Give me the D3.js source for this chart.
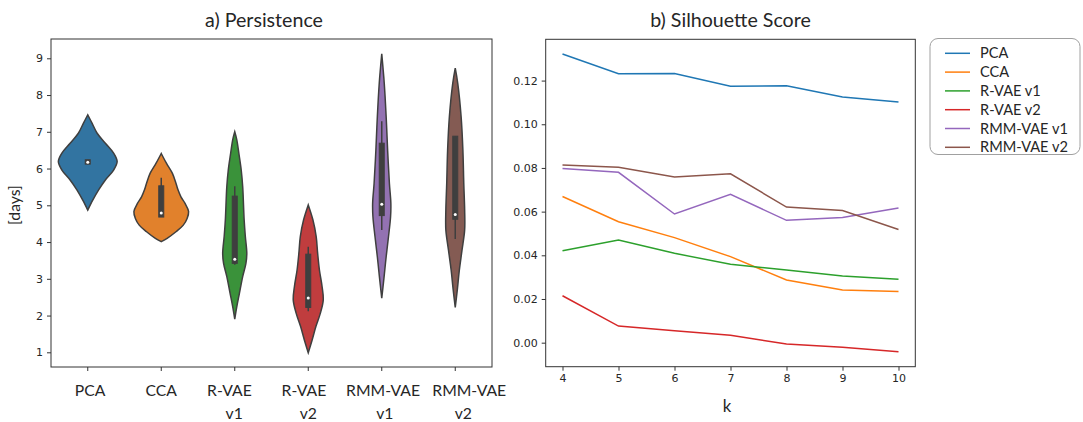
<!DOCTYPE html>
<html><head><meta charset="utf-8">
<script src="https://cdn.jsdelivr.net/npm/d3@7"></script>
<style>body{margin:0;background:#fff}svg{display:block}</style>
</head><body><svg id="c" width="1083" height="422"></svg>
<script>
// ---------- Data: a) Persistence (violins) ----------
const categories = ["PCA", "CCA", "R-VAE v1", "R-VAE v2", "RMM-VAE v1", "RMM-VAE v2"];
const yTicksLeft = [1, 2, 3, 4, 5, 6, 7, 8, 9];
// density profiles: [value (days), relative density]
const pcaProfile = [[7.46,0],[7.23,0.15],[6.96,0.32],[6.69,0.60],[6.42,0.88],[6.19,1.0],[5.96,0.88],[5.69,0.60],[5.42,0.37],[5.14,0.17],[4.87,0]];
const ccaProfile = [[6.41,0],[6.14,0.18],[5.87,0.38],[5.60,0.50],[5.42,0.57],[5.23,0.67],[5.05,0.81],[4.83,0.93],[4.64,0.88],[4.46,0.75],[4.28,0.50],[4.10,0.20],[4.01,0]];
const rvae1Profile = [[7.0,0],[6.78,0.07],[6.41,0.14],[5.96,0.22],[5.51,0.27],[4.60,0.32],[4.15,0.36],[3.69,0.41],[3.42,0.38],[3.06,0.27],[2.61,0.16],[2.24,0.07],[1.90,0]];
const rvae2Profile = [[5.01,0],[4.60,0.16],[4.15,0.27],[3.69,0.32],[3.24,0.38],[2.79,0.47],[2.42,0.51],[2.06,0.41],[1.70,0.26],[1.33,0.13],[0.99,0]];
const rmm1Profile = [[9.12,0],[8.32,0.085],[7.41,0.15],[6.50,0.20],[5.60,0.26],[5.05,0.31],[4.69,0.30],[4.15,0.23],[3.60,0.15],[3.06,0.08],[2.47,0]];
const rmm2Profile = [[8.73,0],[8.32,0.085],[7.41,0.20],[6.50,0.26],[5.60,0.29],[4.87,0.32],[4.33,0.32],[3.78,0.23],[3.24,0.14],[2.70,0.07],[2.22,0]];
const profiles = [pcaProfile, ccaProfile, rvae1Profile, rvae2Profile, rmm1Profile, rmm2Profile];
// inner box statistics
const q1 =      [6.12, 4.68, 3.42, 2.22, 4.72, 4.62];
const q3 =      [6.24, 5.53, 5.25, 3.67, 6.69, 6.88];
const medians = [6.17, 4.79, 3.53, 2.48, 5.03, 4.75];
const whiskLo = [6.12, 4.68, 3.38, 2.12, 4.33, 4.08];
const whiskHi = [6.24, 5.75, 5.52, 3.87, 7.29, 6.88];
const violinColors = ["#3274a1", "#e1812c", "#3a923a", "#c03d3e", "#9372b2", "#845b53"];

// ---------- Data: b) Silhouette Score (lines) ----------
const kValues = [4, 5, 6, 7, 8, 9, 10];
const yTicksRight = [0.00, 0.02, 0.04, 0.06, 0.08, 0.10, 0.12];
const seriesNames = ["PCA", "CCA", "R-VAE v1", "R-VAE v2", "RMM-VAE v1", "RMM-VAE v2"];
const silPCA   = [0.1322, 0.1231, 0.1232, 0.1174, 0.1176, 0.1125, 0.1102];
const silCCA   = [0.0669, 0.0554, 0.0481, 0.0394, 0.0287, 0.0241, 0.0234];
const silRVAE1 = [0.0421, 0.0470, 0.0409, 0.0359, 0.0333, 0.0305, 0.0290];
const silRVAE2 = [0.0215, 0.0076, 0.0055, 0.0034, -0.0006, -0.0021, -0.0041];
const silRMM1  = [0.0798, 0.0780, 0.0589, 0.0679, 0.0560, 0.0573, 0.0617];
const silRMM2  = [0.0814, 0.0803, 0.0759, 0.0773, 0.0621, 0.0605, 0.0518];
const silSeries = [silPCA, silCCA, silRVAE1, silRVAE2, silRMM1, silRMM2];
const lineColors = ["#1f77b4", "#ff7f0e", "#2ca02c", "#d62728", "#9467bd", "#8c564b"];

// ---------- Drawing ----------
const svg = d3.select("#c");
const tickFont = "'DejaVu Sans', sans-serif";
const labelFont = "Lato, 'Open Sans', sans-serif";
const textColor = "#262626";
// layout: hand-placed category label nudges (px) for line 1 and line 2
const labelNudge1 = [2.3, 0, -5.3, -4.3, 1.3, 14];
const labelNudge2 = [0, 0, -0.6, 0, 3, 8];

function fitSize(txt, size, target) {
  const probe = svg.append("text").attr("font-family", labelFont).attr("font-size", size).text(txt);
  const w = probe.node().getComputedTextLength();
  probe.remove();
  return w > 0 ? size * target / w : size;
}

// ===== Left panel =====
const xL = d3.scaleBand().domain(categories).range([51, 492]).padding(0);
const yL = d3.scaleLinear().domain([0.6, 9.525]).range([367, 39]);
const wScale = d3.scaleLinear().domain([0, 1]).range([0, xL.bandwidth() * 0.4]);

const gL = svg.append("g");
categories.forEach((c, i) => {
  const cx = xL(c) + xL.bandwidth() / 2;
  const prof = profiles[i];
  const area = d3.area()
    .y(d => yL(d[0]))
    .x0(d => cx - wScale(d[1]))
    .x1(d => cx + wScale(d[1]))
    .curve(d3.curveCatmullRom.alpha(0.5));
  gL.append("path").datum(prof).attr("d", area)
    .attr("fill", violinColors[i]).attr("stroke", "#3f3f3f").attr("stroke-width", 1.5);
  gL.append("line").attr("x1", cx).attr("x2", cx)
    .attr("y1", yL(whiskLo[i])).attr("y2", yL(whiskHi[i]))
    .attr("stroke", "#3f3f3f").attr("stroke-width", 1.5);
  gL.append("rect").attr("x", cx - 2.5).attr("width", 5)
    .attr("y", yL(q3[i])).attr("height", Math.max(yL(q1[i]) - yL(q3[i]), 0))
    .attr("fill", "#3f3f3f").attr("stroke", "#3f3f3f").attr("stroke-width", 1);
  gL.append("circle").attr("cx", cx).attr("cy", yL(medians[i])).attr("r", 1.5)
    .attr("fill", "#fff");
});

gL.append("rect").attr("x", 51).attr("y", 39).attr("width", 441).attr("height", 328)
  .attr("fill", "none").attr("stroke", "#333").attr("stroke-width", 1);

const axL = d3.axisLeft(yL).tickValues(yTicksLeft).tickSize(4).tickPadding(4).tickFormat(d3.format("d"));
const gAxL = svg.append("g").attr("transform", "translate(51,0)").call(axL);
gAxL.select(".domain").remove();
gAxL.attr("font-size", 11).attr("font-family", tickFont);
gAxL.selectAll("line").attr("stroke", "#333");
gAxL.selectAll("text").attr("font-family", tickFont).attr("font-size", 11).attr("fill", textColor);

const axLX = d3.axisBottom(xL).tickSize(4).tickFormat("");
const gAxLX = svg.append("g").attr("transform", "translate(0,367)").call(axLX);
gAxLX.select(".domain").remove();
gAxLX.selectAll("line").attr("stroke", "#333");

const catSize = fitSize("RMM-VAE", 15, 74);
categories.forEach((c, i) => {
  const cx = xL(c) + xL.bandwidth() / 2;
  const parts = c.split(" ");
  const t = svg.append("text").attr("y", 396)
    .attr("text-anchor", "middle").attr("font-family", labelFont)
    .attr("font-size", catSize).attr("fill", textColor);
  parts.forEach((p, j) => t.append("tspan")
    .attr("x", cx + (j === 0 ? labelNudge1[i] : labelNudge2[i]))
    .attr("dy", j === 0 ? 0 : 23).text(p));
});

svg.append("text").attr("transform", "translate(20,205) rotate(-90)")
  .attr("text-anchor", "middle").attr("font-family", labelFont).attr("font-size", catSize)
  .attr("fill", textColor).text("[days]");

const titleSize = fitSize("a) Persistence", 17, 118);
svg.append("text").attr("x", 264).attr("y", 26.5).attr("text-anchor", "middle")
  .attr("font-family", labelFont).attr("font-size", titleSize).attr("fill", textColor)
  .text("a) Persistence");

// ===== Right panel =====
const xR = d3.scaleLinear().domain([3.7, 10.3]).range([545.7, 915.3]);
const yR = d3.scaleLinear().domain([-0.011, 0.1389]).range([366.7, 39.3]);
const gR = svg.append("g");
const line = d3.line().x((d, j) => xR(kValues[j])).y(d => yR(d));
silSeries.forEach((s, i) => {
  gR.append("path").datum(s).attr("d", line).attr("fill", "none")
    .attr("stroke", lineColors[i]).attr("stroke-width", 1.5);
});
gR.append("rect").attr("x", 545.7).attr("y", 39.3).attr("width", 369.6).attr("height", 327.4)
  .attr("fill", "none").attr("stroke", "#333").attr("stroke-width", 1);

const axR = d3.axisLeft(yR).tickValues(yTicksRight).tickSize(4).tickPadding(4).tickFormat(d3.format(".2f"));
const gAxR = svg.append("g").attr("transform", "translate(545.7,0)").call(axR);
gAxR.select(".domain").remove();
gAxR.attr("font-size", 11).attr("font-family", tickFont);
gAxR.selectAll("line").attr("stroke", "#333");
gAxR.selectAll("text").attr("font-family", tickFont).attr("font-size", 11).attr("fill", textColor);

const axRX = d3.axisBottom(xR).tickValues(kValues).tickSize(4).tickPadding(4).tickFormat(d3.format("d"));
const gAxRX = svg.append("g").attr("transform", "translate(0,366.7)").call(axRX);
gAxRX.select(".domain").remove();
gAxRX.attr("font-size", 11).attr("font-family", tickFont);
gAxRX.selectAll("line").attr("stroke", "#333");
gAxRX.selectAll("text").attr("font-family", tickFont).attr("font-size", 11).attr("fill", textColor);

svg.append("text").attr("x", 727).attr("y", 412).attr("text-anchor", "middle")
  .attr("font-family", labelFont).attr("font-size", catSize + 1).attr("fill", textColor).text("k");

svg.append("text").attr("x", 730.5).attr("y", 26.5).attr("text-anchor", "middle")
  .attr("font-family", labelFont).attr("font-size", titleSize).attr("fill", textColor)
  .text("b) Silhouette Score");

// ===== Legend =====
const gLeg = svg.append("g");
gLeg.append("rect").attr("x", 930).attr("y", 38.5).attr("width", 150).attr("height", 116)
  .attr("rx", 8).attr("fill", "#fff").attr("stroke", "#a0a0a0").attr("stroke-width", 1);
const legSize = fitSize("RMM-VAE v2", 14, 88);
seriesNames.forEach((n, i) => {
  const yy = 53.3 + i * 18.8;
  gLeg.append("line").attr("x1", 945).attr("x2", 970).attr("y1", yy).attr("y2", yy)
    .attr("stroke", lineColors[i]).attr("stroke-width", 1.5);
  gLeg.append("text").attr("x", 980).attr("y", yy + 5).attr("font-family", labelFont)
    .attr("font-size", legSize).attr("fill", textColor).text(n);
});
</script></body></html>
